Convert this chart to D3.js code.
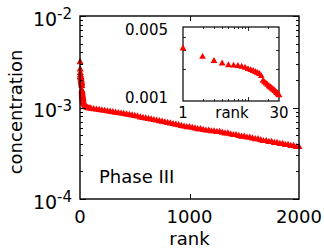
<!DOCTYPE html>
<html>
<head>
<meta charset="utf-8">
<script src="https://cdn.jsdelivr.net/npm/d3@7"></script>
<style>
    body { margin: 0; background: #fff; }
    text { font-family: "DejaVu Sans", sans-serif; fill: #000; }
</style>
</head>
<body>
<div id="chart"></div>
<script>
// Ranks 1-30 (also shown in the inset)
var headRanks = d3.range(1, 31);
var headValues = [0.00313, 0.00261, 0.00239, 0.00226, 0.00218, 0.00216, 0.00214, 0.00211, 0.00206, 0.00200,
    0.00196, 0.00192, 0.00188, 0.00184, 0.00180, 0.00172, 0.00155, 0.00150, 0.00146, 0.00142,
    0.00138, 0.00135, 0.00132, 0.00129, 0.00127, 0.00124, 0.00121, 0.00119, 0.00116, 0.00113];

// Tail of the distribution
var tailRanks = [35, 40, 45, 50, 60, 70, 80, 90, 100, 125, 150, 175, 200, 225, 250, 275, 300, 325, 350, 375,
    400, 425, 450, 475, 500, 525, 550, 575, 600, 625, 650, 675, 700, 725, 750, 775, 800, 825, 850, 875,
    900, 925, 950, 975, 1000, 1025, 1050, 1075, 1100, 1125, 1150, 1175, 1200, 1225, 1250, 1275, 1300, 1325, 1350, 1375,
    1400, 1425, 1450, 1475, 1500, 1525, 1550, 1575, 1600, 1625, 1650, 1675, 1700, 1725, 1750, 1775, 1800, 1825, 1850, 1875,
    1900, 1925, 1950, 1975, 2000];
var tailValues = [0.00110, 0.00107, 0.00104, 0.00102, 0.00100, 0.00099, 0.00098, 0.00098, 0.00097, 0.00096, 0.00095, 0.00094, 0.00093, 0.00092, 0.00091, 0.00090, 0.00089, 0.00088, 0.00087, 0.00086,
    0.00085, 0.00084, 0.00083, 0.00082, 0.00081, 0.00080, 0.00078, 0.00077, 0.00076, 0.00075, 0.00074, 0.00073, 0.00072, 0.00071, 0.00070, 0.00069, 0.00068, 0.00067, 0.00066, 0.00065,
    0.00064, 0.00063, 0.00062, 0.00061, 0.00061, 0.00060, 0.00059, 0.00058, 0.00058, 0.00057, 0.00056, 0.00056, 0.00055, 0.00055, 0.00054, 0.00054, 0.00053, 0.00052, 0.00052, 0.00051,
    0.00050, 0.00050, 0.00049, 0.00048, 0.00048, 0.00047, 0.00047, 0.00046, 0.00045, 0.00045, 0.00044, 0.00043, 0.00043, 0.00042, 0.00042, 0.00041, 0.00041, 0.00040, 0.00040, 0.00039,
    0.00039, 0.00038, 0.00038, 0.00037, 0.00037];

// Tick labels
var xTickLabels = [0, 1000, 2000];
var yTickExponents = [-2, -3, -4];
var insetYTickLabels = ['0.005', '0.001'];
var insetXTickLabels = ['1', '30'];

var svgWidth = 324;
var svgHeight = 250;

var svg = d3.select('#chart')
    .append('svg')
    .attr('width', svgWidth)
    .attr('height', svgHeight);

// Main plot frame
var frame = { left: 80, right: 299, top: 16, bottom: 199 };

var xScale = d3.scaleLinear()
    .domain([0, 2000])
    .range([frame.left, frame.right]);

var yScale = d3.scaleLog()
    .domain([1e-4, 1e-2])
    .range([frame.bottom, frame.top]);

var points = headRanks.map((r, i) => ({ rank: r, value: headValues[i] }))
    .concat(tailRanks.map((r, i) => ({ rank: r, value: tailValues[i] })));

var triangle = d3.symbol().type(d3.symbolTriangle).size(22);

// Points
svg.append('g')
    .selectAll('path')
    .data(points)
    .enter()
    .append('path')
    .attr('d', triangle)
    .attr('transform', d => `translate(${xScale(d.rank)}, ${yScale(d.value)})`)
    .attr('fill', '#ff0000');

// Minor + major log ticks, inward on both sides
var logTicks = [];
[1e-4, 1e-3].forEach(function (dec) {
    for (var k = 1; k <= 9; k++) logTicks.push(dec * k);
});
logTicks.push(1e-2);

var tickGroup = svg.append('g')
    .attr('stroke', '#000')
    .attr('stroke-width', 1);

logTicks.forEach(function (t) {
    var major = Math.abs(Math.log10(t) - Math.round(Math.log10(t))) < 1e-9;
    var len = major ? 6 : 3;
    var y = Math.round(yScale(t)) + 0.5;
    tickGroup.append('line').attr('x1', frame.left).attr('x2', frame.left + len).attr('y1', y).attr('y2', y);
    tickGroup.append('line').attr('x1', frame.right).attr('x2', frame.right - len).attr('y1', y).attr('y2', y);
});

[1000].forEach(function (t) {
    var x = Math.round(xScale(t)) + 0.5;
    tickGroup.append('line').attr('x1', x).attr('x2', x).attr('y1', frame.bottom).attr('y2', frame.bottom - 5);
    tickGroup.append('line').attr('x1', x).attr('x2', x).attr('y1', frame.top).attr('y2', frame.top + 5);
});

svg.append('rect')
    .attr('x', frame.left)
    .attr('y', frame.top)
    .attr('width', frame.right - frame.left)
    .attr('height', frame.bottom - frame.top)
    .attr('fill', 'none')
    .attr('stroke', '#000')
    .attr('stroke-width', 1.4);

// X tick labels
svg.selectAll('.xlab')
    .data(xTickLabels)
    .enter()
    .append('text')
    .attr('x', d => xScale(d))
    .attr('y', 223)
    .attr('text-anchor', 'middle')
    .style('font-size', '18px')
    .text(d => d);

// Y tick labels (10^n)
yTickExponents.forEach(function (e) {
    var y = yScale(Math.pow(10, e));
    var label = svg.append('text')
        .attr('x', 33)
        .attr('y', y + 9.5)
        .style('font-size', '19px');
    label.append('tspan').text('10');
    label.append('tspan')
        .attr('x', 57)
        .attr('y', y + 3)
        .style('font-size', '15px')
        .text('-' + Math.abs(e));
});

// Axis titles
svg.append('text')
    .attr('x', xScale(1000))
    .attr('y', 245)
    .attr('text-anchor', 'middle')
    .style('font-size', '18px')
    .text('rank');

svg.append('text')
    .attr('transform', 'rotate(-90)')
    .attr('x', -112)
    .attr('y', 22)
    .attr('text-anchor', 'middle')
    .style('font-size', '18px')
    .text('concentration');

svg.append('text')
    .attr('x', 99)
    .attr('y', 183)
    .style('font-size', '18px')
    .text('Phase III');

// Inset
var inset = { left: 183, right: 279, top: 27, bottom: 101 };

var ixScale = d3.scaleLog()
    .domain([1, 30])
    .range([inset.left, inset.right]);

var iyScale = d3.scaleLog()
    .domain([0.001, 0.005])
    .range([inset.bottom, inset.top]);

svg.append('rect')
    .attr('x', inset.left)
    .attr('y', inset.top)
    .attr('width', inset.right - inset.left)
    .attr('height', inset.bottom - inset.top)
    .attr('fill', '#fff')
    .attr('stroke', '#000')
    .attr('stroke-width', 1.2);

var insetTicks = svg.append('g')
    .attr('stroke', '#000')
    .attr('stroke-width', 0.8);

[0.002, 0.003, 0.004].forEach(function (t) {
    var y = Math.round(iyScale(t)) + 0.5;
    insetTicks.append('line').attr('x1', inset.left).attr('x2', inset.left + 3).attr('y1', y).attr('y2', y);
    insetTicks.append('line').attr('x1', inset.right).attr('x2', inset.right - 3).attr('y1', y).attr('y2', y);
});

[2, 3, 4, 5, 6, 7, 8, 9, 10, 20].forEach(function (t) {
    var x = Math.round(ixScale(t)) + 0.5;
    var len = t === 10 ? 4 : 2;
    insetTicks.append('line').attr('x1', x).attr('x2', x).attr('y1', inset.bottom).attr('y2', inset.bottom - len);
    insetTicks.append('line').attr('x1', x).attr('x2', x).attr('y1', inset.top).attr('y2', inset.top + len);
});

var insetTriangle = d3.symbol().type(d3.symbolTriangle).size(20);

svg.append('g')
    .selectAll('path')
    .data(headRanks.map((r, i) => ({ rank: r, value: headValues[i] })))
    .enter()
    .append('path')
    .attr('d', insetTriangle)
    .attr('transform', d => `translate(${ixScale(d.rank)}, ${iyScale(d.value)})`)
    .attr('fill', '#ff0000');

svg.append('text')
    .attr('x', 168)
    .attr('y', 35)
    .attr('text-anchor', 'end')
    .style('font-size', '15px')
    .text(insetYTickLabels[0]);

svg.append('text')
    .attr('x', 168)
    .attr('y', 103)
    .attr('text-anchor', 'end')
    .style('font-size', '15px')
    .text(insetYTickLabels[1]);

svg.append('text')
    .attr('x', ixScale(1))
    .attr('y', 118)
    .attr('text-anchor', 'middle')
    .style('font-size', '15px')
    .text(insetXTickLabels[0]);

svg.append('text')
    .attr('x', ixScale(30))
    .attr('y', 118)
    .attr('text-anchor', 'middle')
    .style('font-size', '15px')
    .text(insetXTickLabels[1]);

svg.append('text')
    .attr('x', 232)
    .attr('y', 118)
    .attr('text-anchor', 'middle')
    .style('font-size', '15px')
    .text('rank');
</script>
</body>
</html>
